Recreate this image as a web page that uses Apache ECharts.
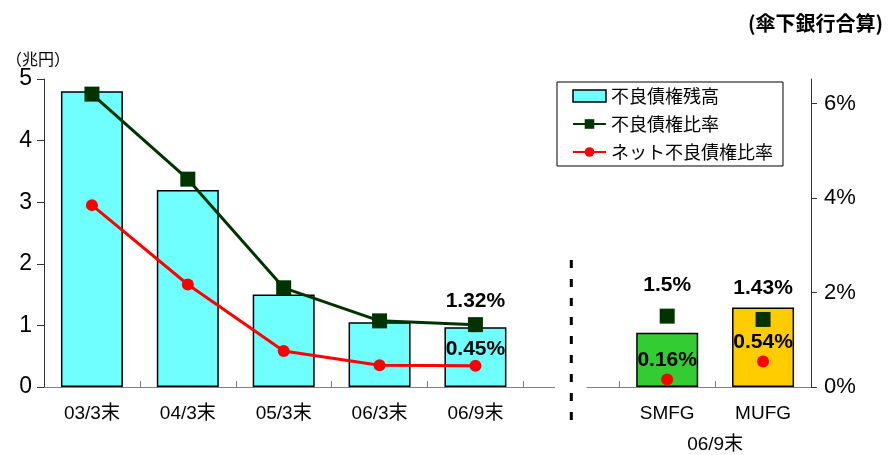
<!DOCTYPE html>
<html>
<head>
<meta charset="utf-8">
<script src="https://cdn.jsdelivr.net/npm/echarts@6/dist/echarts.min.js"></script>
<style>
  html, body { margin: 0; padding: 0; background: #fff; }
  #chart { width: 891px; height: 455px; }
</style>
</head>
<body>
<div id="chart"></div>
<script>
// Period-end categories (left block) and bank names (right block, 06/9末)
const periods = ['03/3末', '04/3末', '05/3末', '06/3末', '06/9末'];
const banks = ['SMFG', 'MUFG'];
const bankGroupLabel = '06/9末';

// 不良債権残高 (兆円)
const balance = [4.8, 3.2, 1.5, 1.05, 0.97];
const bankBalance = [0.88, 1.29];

// 不良債権比率 (%)
const ratio = [6.2, 4.4, 2.1, 1.4, 1.32];
const bankRatio = [1.5, 1.43];

// ネット不良債権比率 (%)
const netRatio = [3.85, 2.17, 0.76, 0.46, 0.45];
const bankNetRatio = [0.16, 0.54];

const bankColors = ['#33CC33', '#FFCC00'];

// Axis tick labels
const leftTicks = [0, 1, 2, 3, 4, 5];
const rightTicks = [0, 2, 4, 6];

// Slot layout along the x axis: five periods, one empty slot, two banks
const periodX = periods.map((_, i) => i + 0.5);
const bankX = banks.map((_, i) => periods.length + 1 + i + 0.5);
const slotCount = periods.length + 1 + banks.length;
const gapSlot = periods.length + 0.5;
const groupLabelX = (bankX[0] + bankX[bankX.length - 1]) / 2;

const LATIN = "'Liberation Sans', Arial, 'Noto Sans CJK JP', sans-serif";
const CJK = "'Noto Sans CJK JP', 'Liberation Sans', sans-serif";
const NARROW = "'Liberation Sans Narrow', 'Arial Narrow', 'Liberation Sans', sans-serif";

const xLabelMap = {};
periods.forEach((p, i) => { xLabelMap[periodX[i]] = p; });
banks.forEach((b, i) => { xLabelMap[bankX[i]] = b; });

const pctLabel = {
  show: true,
  fontFamily: LATIN,
  fontWeight: 'bold',
  fontSize: 21,
  color: '#000',
  formatter: p => p.value[1] + '%'
};

const lastIdx = periods.length - 1;

const chart = echarts.init(document.getElementById('chart'), null, { renderer: 'canvas' });

chart.setOption({
  animation: false,
  backgroundColor: '#fff',
  title: [
    { text: '（兆円）', left: 1, top: 46,
      textStyle: { fontFamily: CJK, fontSize: 16, fontWeight: 'normal', color: '#000' } },
    { text: '(傘下銀行合算)', right: 3, top: 8,
      textStyle: { fontFamily: CJK, fontSize: 20, fontWeight: 'bold', color: '#000' } }
  ],
  legend: {
    orient: 'vertical',
    left: 557,
    top: 82,
    padding: [5, 10, 5, 15],
    itemGap: 10,
    itemWidth: 33,
    itemHeight: 12,
    borderColor: '#000',
    borderWidth: 1,
    backgroundColor: '#fff',
    textStyle: { fontFamily: CJK, fontSize: 18, color: '#000' },
    data: [
      { name: '不良債権残高', icon: 'rect',
        itemStyle: { color: '#6FFFFF', borderColor: '#000', borderWidth: 1.5 } },
      { name: '不良債権比率' },
      { name: 'ネット不良債権比率' }
    ]
  },
  grid: [
    { left: 44, right: 80, top: 79, bottom: 68 },
    // strip holding the dashed separator, reaching below the baseline
    { left: 44, right: 80, top: 260, bottom: 35 }
  ],
  xAxis: [
    {
      type: 'value',
      gridIndex: 0,
      min: 0,
      max: slotCount,
      axisLine: { show: false, onZero: false },
      splitLine: { show: false },
      axisTick: {
        show: true,
        inside: true,
        length: 6,
        lineStyle: { color: '#808080', width: 1 },
        customValues: [1, 2, 3, 4, 5, 6, 7]
      },
      axisLabel: {
        customValues: periodX.concat(bankX),
        margin: 17,
        hideOverlap: false,
        fontFamily: LATIN,
        fontSize: 19,
        color: '#000',
        formatter: v => xLabelMap[v] || ''
      }
    },
    {
      // second label row naming the bank block
      type: 'value',
      gridIndex: 0,
      position: 'bottom',
      min: 0,
      max: slotCount,
      axisLine: { show: false, onZero: false },
      axisTick: { show: false },
      splitLine: { show: false },
      axisLabel: {
        customValues: [groupLabelX],
        margin: 48,
        hideOverlap: false,
        fontFamily: LATIN,
        fontSize: 19,
        color: '#000',
        formatter: () => bankGroupLabel
      }
    },
    {
      type: 'value',
      gridIndex: 1,
      min: 0,
      max: slotCount,
      show: false,
      axisLine: { onZero: false }
    }
  ],
  yAxis: [
    {
      type: 'value',
      gridIndex: 0,
      position: 'left',
      min: 0,
      max: 5,
      interval: 1,
      splitLine: { show: false },
      axisLine: { show: true, onZero: false, lineStyle: { color: '#333', width: 1 } },
      axisTick: { show: true, length: 7, lineStyle: { color: '#333' }, customValues: leftTicks },
      axisLabel: { customValues: leftTicks, margin: 12, fontFamily: LATIN, fontSize: 23, color: '#000' }
    },
    {
      type: 'value',
      gridIndex: 0,
      position: 'right',
      min: 0,
      max: 6.52,
      splitLine: { show: false },
      axisLine: { show: true, onZero: false, lineStyle: { color: '#333', width: 1 } },
      axisTick: { show: true, length: 6, lineStyle: { color: '#333' }, customValues: rightTicks },
      axisLabel: {
        customValues: rightTicks,
        margin: 13,
        fontFamily: NARROW,
        fontSize: 22,
        color: '#000',
        formatter: '{value}%'
      }
    },
    {
      type: 'value',
      gridIndex: 1,
      min: 0,
      max: 1,
      show: false,
      axisLine: { onZero: false }
    }
  ],
  series: [
    {
      name: '不良債権残高',
      type: 'bar',
      xAxisIndex: 0,
      yAxisIndex: 0,
      barWidth: 62,
      itemStyle: { color: '#6FFFFF', borderColor: '#000', borderWidth: 1.5 },
      data: balance.map((v, i) => [periodX[i], v]).concat(
        bankBalance.map((v, i) => ({
          value: [bankX[i], v],
          itemStyle: { color: bankColors[i], borderColor: '#000', borderWidth: 1.5 }
        }))
      ),
      markLine: {
        silent: true,
        symbol: 'none',
        label: { show: false },
        emphasis: { disabled: true },
        lineStyle: { color: '#808080', width: 1, type: 'solid' },
        data: [
          // baseline, broken around the separator
          [{ coord: [0, 0] }, { coord: [gapSlot - 0.17, 0] }],
          [{ coord: [gapSlot + 0.16, 0] }, { coord: [slotCount, 0] }]
        ]
      },
      z: 2
    },
    {
      name: 'separator',
      type: 'line',
      xAxisIndex: 2,
      yAxisIndex: 2,
      symbol: 'none',
      silent: true,
      lineStyle: { color: '#000', width: 3, type: [8, 11] },
      data: [[gapSlot, 1], [gapSlot, 0]],
      z: 1
    },
    {
      name: '不良債権比率',
      type: 'line',
      xAxisIndex: 0,
      yAxisIndex: 1,
      symbol: 'rect',
      symbolSize: 15,
      color: '#003300',
      lineStyle: { color: '#003300', width: 3 },
      itemStyle: { color: '#003300', opacity: 1 },
      data: ratio.map((v, i) => i === lastIdx
        ? { value: [periodX[i], v], label: Object.assign({}, pctLabel, { position: 'top', distance: 5 }) }
        : [periodX[i], v]),
      z: 4
    },
    {
      name: 'ネット不良債権比率',
      type: 'line',
      xAxisIndex: 0,
      yAxisIndex: 1,
      symbol: 'circle',
      symbolSize: 12,
      color: '#FF0000',
      lineStyle: { color: '#FF0000', width: 3 },
      itemStyle: { color: '#FF0000', opacity: 1 },
      data: netRatio.map((v, i) => i === lastIdx
        ? { value: [periodX[i], v], label: Object.assign({}, pctLabel, { position: 'top', distance: 0 }) }
        : [periodX[i], v]),
      z: 4
    },
    {
      name: 'bankRatio',
      type: 'scatter',
      xAxisIndex: 0,
      yAxisIndex: 1,
      symbol: 'rect',
      symbolSize: 15,
      itemStyle: { color: '#003300', opacity: 1 },
      label: Object.assign({}, pctLabel, { position: 'top', distance: 13 }),
      data: bankRatio.map((v, i) => [bankX[i], v]),
      z: 4
    },
    {
      name: 'bankNetRatio',
      type: 'scatter',
      xAxisIndex: 0,
      yAxisIndex: 1,
      symbol: 'circle',
      symbolSize: 12,
      itemStyle: { color: '#FF0000', opacity: 1 },
      label: Object.assign({}, pctLabel, { position: 'top', distance: 3 }),
      data: bankNetRatio.map((v, i) => [bankX[i], v]),
      z: 4
    }
  ]
});
</script>
</body>
</html>
